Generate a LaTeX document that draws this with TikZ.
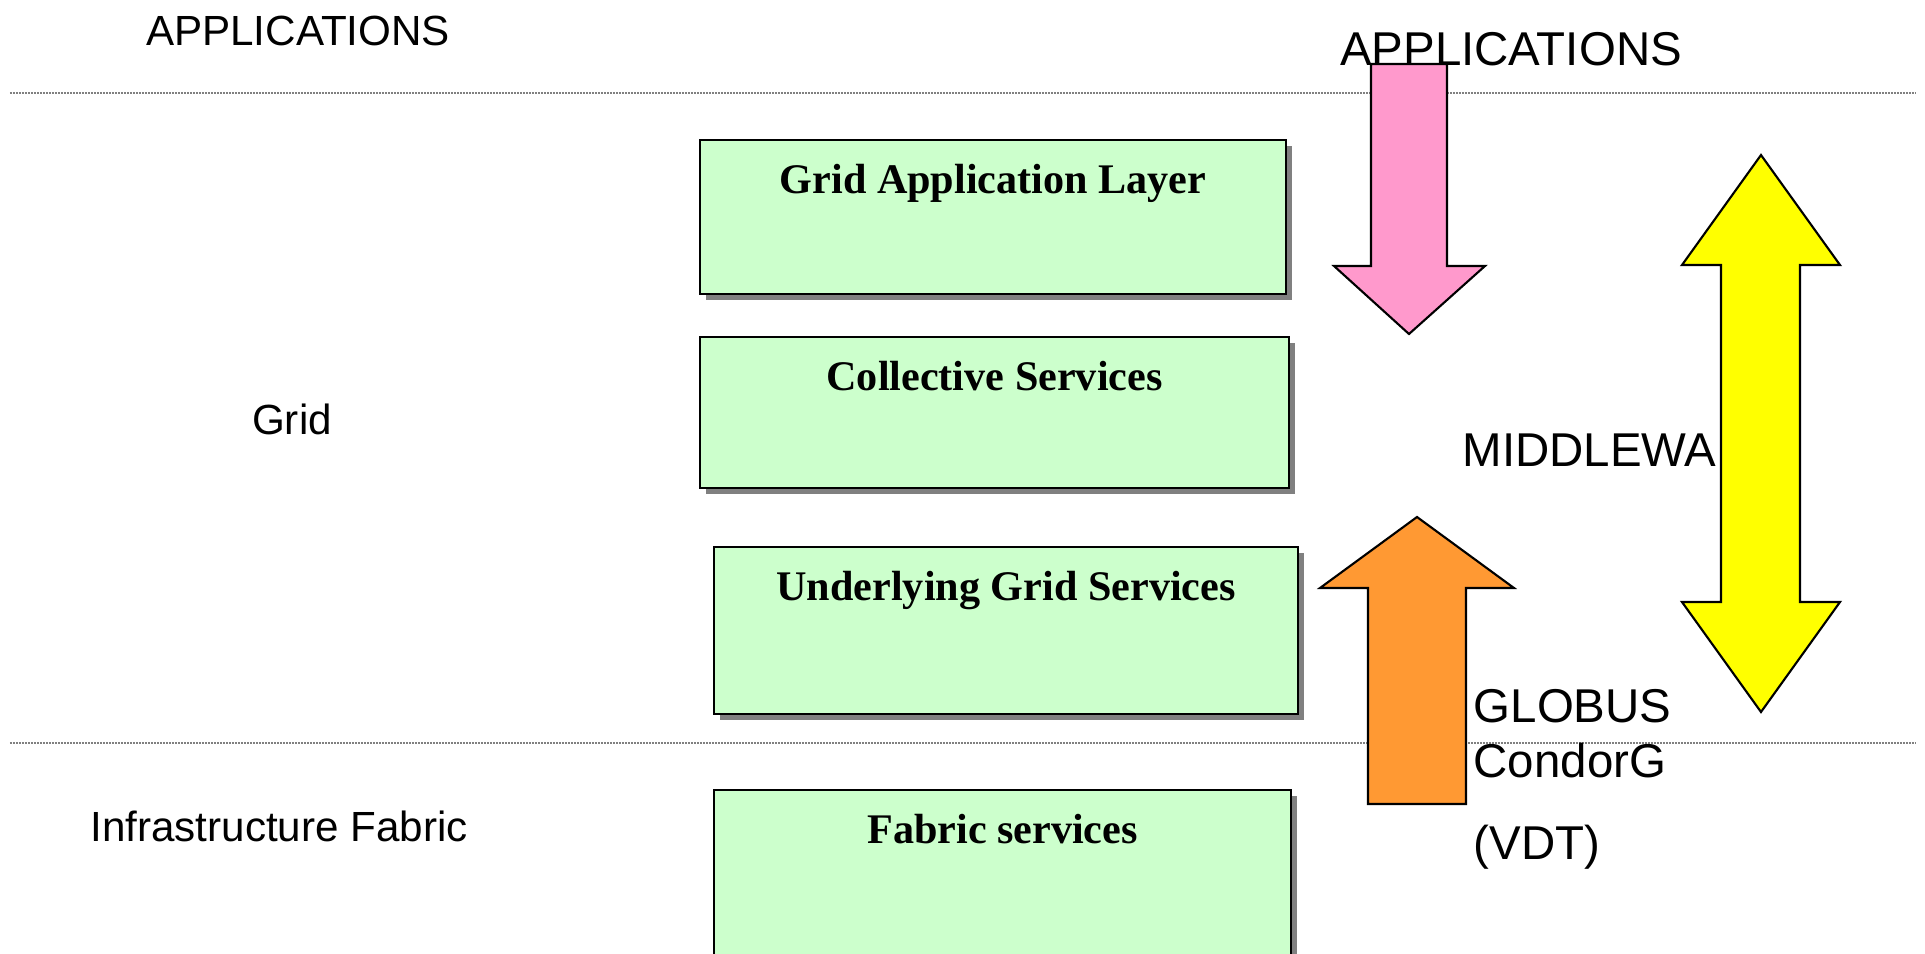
\documentclass[tikz,border=0pt]{standalone}
\usepackage{fontspec}
\setmainfont{Liberation Serif}
\newfontfamily\arial{Liberation Sans}
\usetikzlibrary{shadows,positioning}

\definecolor{layergreen}{RGB}{204,255,204}
\definecolor{apppink}{RGB}{255,153,204}
\definecolor{mwyellow}{RGB}{255,255,0}
\definecolor{globusorange}{RGB}{255,153,51}

\tikzset{
  layer/.style={draw=black,line width=0.6pt,fill=layergreen,anchor=north west,inner sep=0pt,
    drop shadow={shadow xshift=0.6mm,shadow yshift=-0.6mm,fill=black!50,opacity=1}},
  layertitle/.style={anchor=base,inner sep=0pt,font=\fontsize{12pt}{14pt}\selectfont\bfseries},
  side/.style={inner sep=0pt,font=\arial\fontsize{12pt}{14pt}\selectfont},
  mw/.style={inner sep=0pt,anchor=west,font=\arial\fontsize{13.5pt}{16pt}\selectfont},
  sepline/.style={draw=black!50,line width=0.3pt,dash pattern=on 0.2mm off 0.1mm},
  blockarrow/.style={draw=black,line width=0.6pt,line join=miter}
}

\begin{document}
\begin{tikzpicture}[x=0.1mm,y=-0.1mm]
      \clip (0,0) rectangle (1925,954);

      % labels of the three levels
      \node[side] (apps) at (298,31) {APPLICATIONS};
      \node[side] (grid) at (292,419) {Grid};
      \node[side] (fabric) at (279,826) {Infrastructure Fabric};

      \draw[sepline] (10,93) -- (1915,93);
      \draw[sepline] (10,743) -- (1915,743);

      % the layered boxes
      \node[layer,minimum width=58.6mm,minimum height=15.4mm] (gal) at (699,139) {};
      \node[layer,minimum width=58.9mm,minimum height=15.1mm] (cs) at (699,336) {};
      \node[layer,minimum width=58.4mm,minimum height=16.7mm] (ugs) at (713,546) {};
      \node[layer,minimum width=57.7mm,minimum height=20mm] (fs) at (713,789) {};

      \node[layertitle] (galt) at ([yshift=-5.4mm]gal.north) {Grid Application Layer};
      \node[layertitle] (cst) at ([yshift=-5.4mm]cs.north) {Collective Services};
      \node[layertitle] (ugst) at ([yshift=-5.4mm]ugs.north) {Underlying Grid Services};
      \node[layertitle] (fst) at ([yshift=-5.4mm]fs.north) {Fabric services};

      % right hand side
      \node[mw,anchor=center] (apps2) at (1511,49) {APPLICATIONS};
      \node[mw] (middle) at (1462,450) {MIDDLEWA};
      \node[mw] (globus) at (1473,706) {GLOBUS};
      \node[mw] (condor) at (1473,761) {CondorG};
      \node[mw] (vdt) at (1473,847) {(VDT)};

      \draw[blockarrow,fill=apppink] (1371,64) -- (1447,64) -- (1447,266) -- (1485,266)
        -- (1409,334) -- (1334,266) -- (1371,266) -- cycle;
      \draw[blockarrow,fill=globusorange] (1368,804) -- (1466,804) -- (1466,588) -- (1514,588)
        -- (1417,517) -- (1320,588) -- (1368,588) -- cycle;
      \draw[blockarrow,fill=mwyellow] (1761,155) -- (1840,265) -- (1800,265) -- (1800,602)
        -- (1840,602) -- (1761,712) -- (1682,602) -- (1721,602) -- (1721,265) -- (1682,265) -- cycle;
    \end{tikzpicture}
\end{document}
